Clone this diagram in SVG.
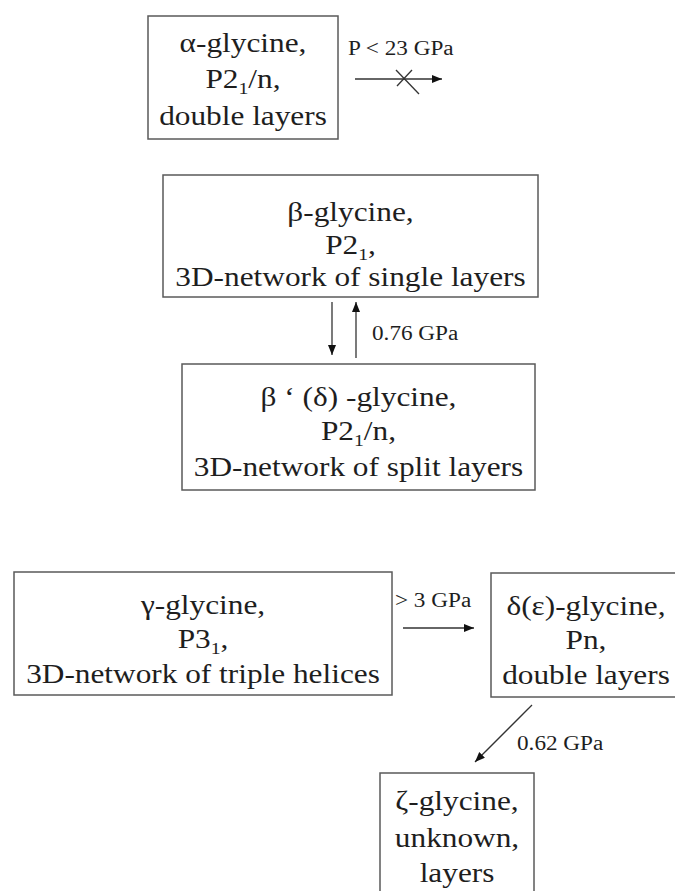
<svg xmlns="http://www.w3.org/2000/svg" width="675" height="891" viewBox="0 0 675 891">
<style>
.box{fill:#fff;stroke:#5a5a5a;stroke-width:1.5}
.t{font-family:"Liberation Serif","Times New Roman",serif;font-size:27px;fill:#1e1e1e;text-anchor:middle}
.s{font-family:"Liberation Serif","Times New Roman",serif;font-size:20px;fill:#1e1e1e}
.sub{font-size:17px}
.ln{stroke:#333;stroke-width:1.3;fill:none}
</style>
<defs>
<marker id="ah" markerUnits="userSpaceOnUse" markerWidth="11" markerHeight="9" refX="10" refY="4" orient="auto">
<path d="M0,0 L10,4 L0,8 z" fill="#111"/>
</marker>
</defs>
<rect width="675" height="891" fill="#fff"/>
<g id="alpha">
<rect class="box" x="148" y="16" width="190" height="123"/>
<g transform="translate(243,0) scale(1.16,1)">
<text class="t" x="0" y="52">α-glycine,</text>
<text class="t" x="0" y="88">P2<tspan class="sub" dy="6">1</tspan><tspan dy="-6">/n,</tspan></text>
<text class="t" x="0" y="125">double layers</text>
</g>
</g>
<g id="beta">
<rect class="box" x="163" y="175" width="375" height="122"/>
<g transform="translate(350.5,0) scale(1.16,1)">
<text class="t" x="0" y="221">β-glycine,</text>
<text class="t" x="0" y="254">P2<tspan class="sub" dy="6">1</tspan><tspan dy="-6">,</tspan></text>
<text class="t" x="0" y="286">3D-network of single layers</text>
</g>
</g>
<g id="betaprime">
<rect class="box" x="182" y="364" width="353" height="126"/>
<g transform="translate(358.5,0) scale(1.16,1)">
<text class="t" x="0" y="406">β ‘ (δ) -glycine,</text>
<text class="t" x="0" y="440">P2<tspan class="sub" dy="6">1</tspan><tspan dy="-6">/n,</tspan></text>
<text class="t" x="0" y="476">3D-network of split layers</text>
</g>
</g>
<g id="gamma">
<rect class="box" x="14" y="572" width="378" height="123"/>
<g transform="translate(203,0) scale(1.16,1)">
<text class="t" x="0" y="614">γ-glycine,</text>
<text class="t" x="0" y="648">P3<tspan class="sub" dy="6">1</tspan><tspan dy="-6">,</tspan></text>
<text class="t" x="0" y="683">3D-network of triple helices</text>
</g>
</g>
<g id="delta">
<rect class="box" x="491" y="573" width="200" height="124"/>
<g transform="translate(586,0) scale(1.16,1)">
<text class="t" x="0" y="615">δ(ε)-glycine,</text>
<text class="t" x="0" y="649">Pn,</text>
<text class="t" x="0" y="684">double layers</text>
</g>
</g>
<g id="zeta">
<rect class="box" x="380" y="773" width="154" height="130"/>
<g transform="translate(457,0) scale(1.16,1)">
<text class="t" x="0" y="810">ζ-glycine,</text>
<text class="t" x="0" y="847">unknown,</text>
<text class="t" x="0" y="882">layers</text>
</g>
</g>
<g id="connectors">
<line class="ln" x1="355" y1="79" x2="442" y2="79" marker-end="url(#ah)"/>
<line class="ln" x1="396" y1="70" x2="419" y2="94"/>
<line class="ln" x1="397" y1="86" x2="412" y2="70"/>
<line class="ln" x1="332" y1="302" x2="332" y2="355" marker-end="url(#ah)"/>
<line class="ln" x1="356" y1="358" x2="356" y2="302" marker-end="url(#ah)"/>
<line class="ln" x1="403" y1="628" x2="474" y2="628" marker-end="url(#ah)"/>
<line class="ln" x1="532" y1="705" x2="475" y2="762" marker-end="url(#ah)"/>
<g transform="translate(348,55) scale(1.16,1)"><text class="s" x="0" y="0">P &lt; 23 GPa</text></g>
<g transform="translate(372,340) scale(1.16,1)"><text class="s" x="0" y="0">0.76 GPa</text></g>
<g transform="translate(395,607) scale(1.16,1)"><text class="s" x="0" y="0">&gt; 3 GPa</text></g>
<g transform="translate(517,750) scale(1.16,1)"><text class="s" x="0" y="0">0.62 GPa</text></g>
</g>
</svg>
